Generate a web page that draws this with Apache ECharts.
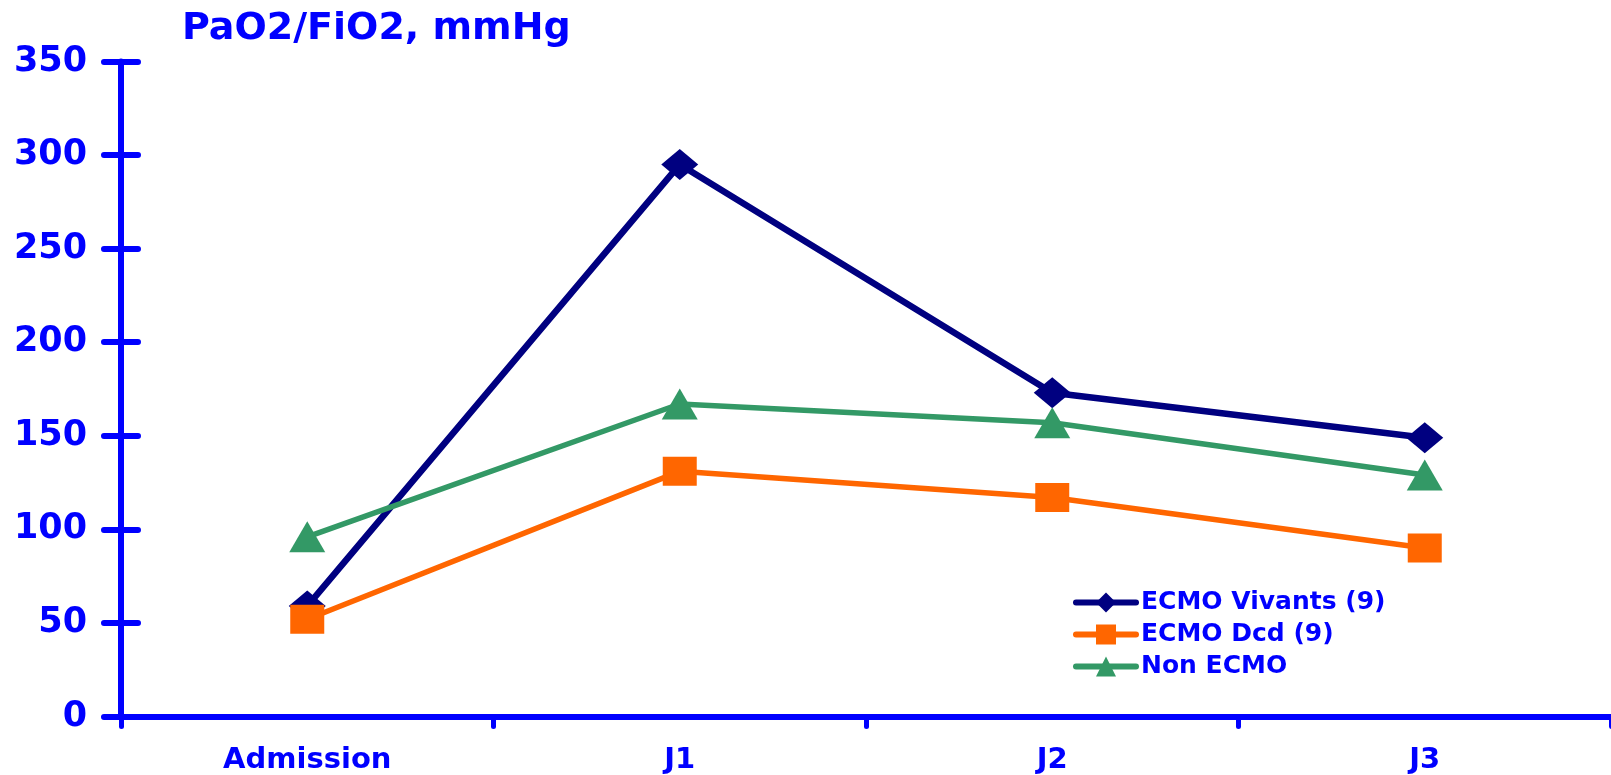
<!DOCTYPE html>
<html>
<head>
<meta charset="utf-8">
<title>PaO2/FiO2, mmHg</title>
<script src="https://cdn.jsdelivr.net/npm/echarts@6/dist/echarts.min.js"></script>
<style>
  html, body { margin: 0; padding: 0; background: #ffffff; }
  #chart { width: 1611px; height: 775px; }
</style>
</head>
<body>
<div id="chart"></div>
<script>
// Time points and PaO2/FiO2 ratio (mmHg) per group
const categories = ['Admission', 'J1', 'J2', 'J3'];
const seriesNames = ['ECMO Vivants (9)', 'ECMO Dcd (9)', 'Non ECMO'];
const ecmoVivants = [59, 295, 173, 149];
const ecmoDcd = [52, 131, 117, 90];
const nonEcmo = [96, 167, 157, 129];
const yTicks = [0, 50, 100, 150, 200, 250, 300, 350];

const BLUE = '#0000FF';
const FONT = '"DejaVu Sans", "Liberation Sans", sans-serif';

const chart = echarts.init(document.getElementById('chart'), null, { renderer: 'canvas' });

const yMin = yTicks[0];
const yMax = yTicks[yTicks.length - 1];
const yStep = yTicks[1] - yTicks[0];

function lineSeries(name, values, color, width, symbol, size) {
  return {
    name: name,
    type: 'line',
    data: values,
    symbol: symbol,
    symbolSize: size,
    showAllSymbol: true,
    lineStyle: { color: color, width: width, cap: 'round', join: 'round' },
    itemStyle: { color: color, borderWidth: 0 },
    emphasis: { disabled: true },
    animation: false
  };
}

chart.setOption({
  backgroundColor: '#ffffff',
  animation: false,
  title: {
    text: 'PaO2/FiO2, mmHg',
    left: 182,
    top: 10,
    padding: 0,
    textStyle: { color: BLUE, fontSize: 38, fontWeight: 'bold', fontFamily: FONT }
  },
  legend: {
    data: seriesNames,
    orient: 'vertical',
    left: 1073,
    top: 590,
    padding: 0,
    itemWidth: 60,
    itemHeight: 25,
    itemGap: 7,
    selectedMode: false,
    lineStyle: { width: 6, cap: 'round' },
    textStyle: { color: BLUE, fontSize: 25, fontWeight: 'bold', fontFamily: FONT, lineHeight: 25 }
  },
  grid: { left: 121, right: -10, top: 61.5, bottom: 58.5, containLabel: false },
  xAxis: {
    type: 'category',
    data: categories,
    boundaryGap: true,
    axisLine: { lineStyle: { color: BLUE, width: 6 } },
    axisTick: { show: true, length: 10, lineStyle: { color: BLUE, width: 5, cap: 'round' } },
    axisLabel: { color: BLUE, fontSize: 29, fontWeight: 'bold', fontFamily: FONT, margin: 29 },
    splitLine: { show: false }
  },
  yAxis: [
    {
      type: 'value',
      min: yMin,
      max: yMax,
      interval: yStep,
      axisLine: { show: true, lineStyle: { color: BLUE, width: 6, cap: 'round' } },
      axisTick: { show: true, length: 17, lineStyle: { color: BLUE, width: 6, cap: 'round' } },
      axisLabel: { color: BLUE, fontSize: 35, fontWeight: 'bold', fontFamily: FONT, margin: 34 },
      splitLine: { show: false }
    },
    {
      // inner half of the y-axis tick marks
      type: 'value',
      position: 'left',
      min: yMin,
      max: yMax,
      interval: yStep,
      axisLine: { show: false },
      axisTick: { show: true, inside: true, length: 17, lineStyle: { color: BLUE, width: 6, cap: 'round' } },
      axisLabel: { show: false },
      splitLine: { show: false }
    }
  ],
  series: [
    lineSeries(seriesNames[0], ecmoVivants, '#000080', 6.5, 'diamond', [37, 31]),
    lineSeries(seriesNames[1], ecmoDcd, '#FF6600', 5.5, 'rect', [34, 29]),
    lineSeries(seriesNames[2], nonEcmo, '#339966', 5.5, 'triangle', [36, 31])
  ]
});
</script>
</body>
</html>
